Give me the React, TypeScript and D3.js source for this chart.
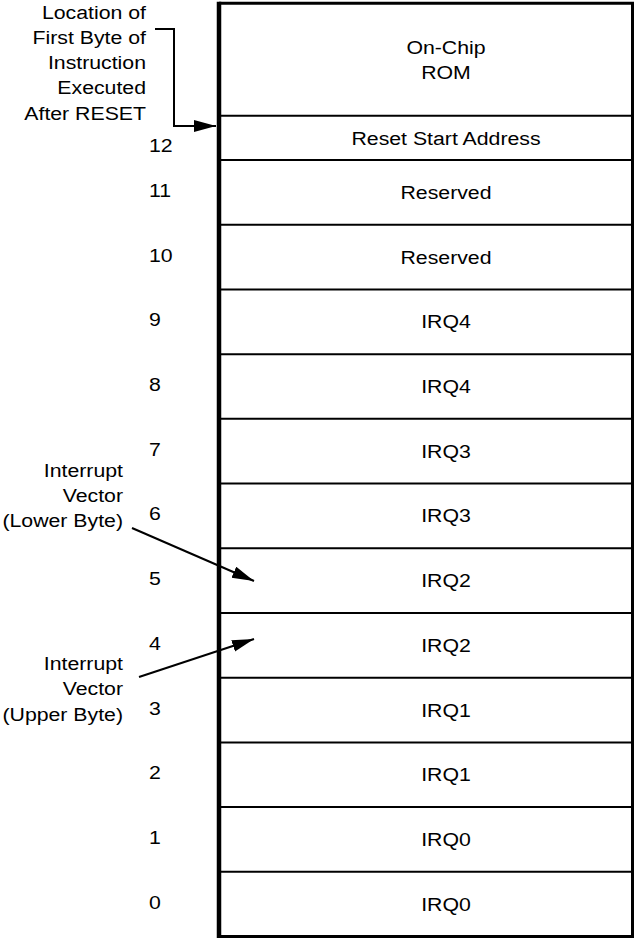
import React from "react";
import * as d3 from "d3";

const W = 634;
const H = 938;

// Memory map rows (address -> contents), lowest address at bottom
const addresses = [11, 10, 9, 8, 7, 6, 5, 4, 3, 2, 1, 0];
const contents = ["Reserved", "Reserved", "IRQ4", "IRQ4", "IRQ3", "IRQ3", "IRQ2", "IRQ2", "IRQ1", "IRQ1", "IRQ0", "IRQ0"];
const resetAddress = 12;
const resetLabel = "Reset Start Address";
const romLines = ["On-Chip", "ROM"];
const resetNote = ["Location of", "First Byte of", "Instruction", "Executed", "After RESET"];
const lowerNote = ["Interrupt", "Vector", "(Lower Byte)"];
const upperNote = ["Interrupt", "Vector", "(Upper Byte)"];

const FONT = "'Liberation Sans', Arial, Helvetica, sans-serif";
const FS = 19;
const SX = 1.12;

function T({ x, y, anchor = "middle", children }: { x: number; y: number; anchor?: string; children: React.ReactNode }) {
  return (
    <text
      transform={`translate(${x},${y}) scale(${SX},1)`}
      textAnchor={anchor}
      dominantBaseline="central"
      fontFamily={FONT}
      fontSize={FS}
      fill="#000"
    >
      {children}
    </text>
  );
}

export default function App() {
  const left = 219;
  const right = 632.5;
  const top = 3.2;
  const romBottom = 115.7;
  const resetBottom = 160;
  const bottom = 936.5;
  const cx = 446;

  const y = d3.scaleBand<number>().domain(addresses).range([resetBottom, bottom]).padding(0);
  const bw = y.bandwidth();

  const line = d3.line<[number, number]>();

  return (
    <svg width={W} height={H} style={{ position: "absolute", left: 0, top: 0, background: "#fff" }}>
      <defs>
        <marker id="ah" markerUnits="userSpaceOnUse" markerWidth={24} markerHeight={14} refX={22} refY={6} orient="auto">
          <path d="M0,0 L22,6 L0,12 Z" fill="#000" />
        </marker>
      </defs>
      <rect x={0} y={0} width={W} height={H} fill="#fff" />

      {/* row dividers */}
      <line x1={left} x2={right} y1={romBottom} y2={romBottom} stroke="#000" strokeWidth={2} />
      <line x1={left} x2={right} y1={resetBottom} y2={resetBottom} stroke="#000" strokeWidth={2} />
      {addresses.slice(0, -1).map((a) => (
        <line key={a} x1={left} x2={right} y1={(y(a) as number) + bw} y2={(y(a) as number) + bw} stroke="#000" strokeWidth={2} />
      ))}

      {/* outer box */}
      <line x1={left} x2={right + 1.5} y1={top} y2={top} stroke="#000" strokeWidth={3} />
      <line x1={left} x2={right + 1.5} y1={bottom} y2={bottom} stroke="#000" strokeWidth={3} />
      <line x1={right} x2={right} y1={top} y2={bottom} stroke="#000" strokeWidth={3} />
      <line x1={left} x2={left} y1={top - 1.5} y2={bottom + 1.5} stroke="#000" strokeWidth={4.5} />

      {/* contents */}
      {romLines.map((t, i) => (
        <T key={t} x={cx} y={47 + i * 25}>{t}</T>
      ))}
      <T x={cx} y={(romBottom + resetBottom) / 2 + 1}>{resetLabel}</T>
      {addresses.map((a, i) => (
        <T key={a} x={cx} y={(y(a) as number) + bw / 2}>{contents[i]}</T>
      ))}

      {/* address labels */}
      <T x={149} y={145} anchor="start">{resetAddress}</T>
      {addresses.map((a) => (
        <T key={a} x={149} y={(y(a) as number) + bw / 2 - 2} anchor="start">{a}</T>
      ))}

      {/* notes */}
      {resetNote.map((t, i) => (
        <T key={t} x={146} y={12 + i * 25.3} anchor="end">{t}</T>
      ))}
      {lowerNote.map((t, i) => (
        <T key={t} x={123} y={470 + i * 25} anchor="end">{t}</T>
      ))}
      {upperNote.map((t, i) => (
        <T key={t} x={123} y={663 + i * 25.5} anchor="end">{t}</T>
      ))}

      {/* arrows */}
      <path d={line([[155, 29], [174, 29], [174, 126], [216, 126]]) as string} fill="none" stroke="#000" strokeWidth={2} markerEnd="url(#ah)" />
      <path d={line([[132, 528], [254, 581]]) as string} fill="none" stroke="#000" strokeWidth={2} markerEnd="url(#ah)" />
      <path d={line([[139, 677], [254, 639]]) as string} fill="none" stroke="#000" strokeWidth={2} markerEnd="url(#ah)" />
    </svg>
  );
}
